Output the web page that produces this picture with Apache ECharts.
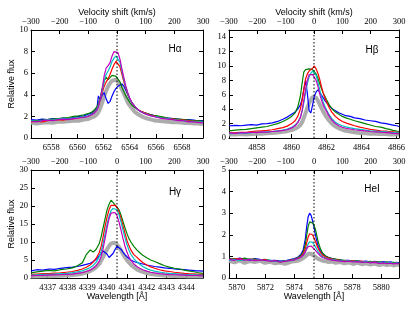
<!DOCTYPE html>
<html><head><meta charset="utf-8">
<script src="https://cdn.jsdelivr.net/npm/echarts@6/dist/echarts.min.js"></script>
<style>html,body{margin:0;padding:0;background:#fff}#c{width:415px;height:312px}</style>
</head><body><div id="c"></div>
<script>
// ---------- DATA ----------
const velTicks = [-300, -200, -100, 0, 100, 200, 300];

// H-alpha
const haWave = [6556.45,6556.9,6557.3,6557.7,6558.1,6558.5,6558.9,6559.3,6559.7,6560.1,6560.5,6560.8,6561.1,6561.3,6561.5,6561.6,6561.75,6561.9,6562.05,6562.2,6562.35,6562.5,6562.65,6562.8,6562.95,6563.1,6563.25,6563.4,6563.55,6563.7,6563.85,6564.0,6564.2,6564.4,6564.65,6564.9,6565.2,6565.5,6565.8,6566.1,6566.5,6566.9,6567.3,6567.7,6568.1,6568.5,6568.9,6569.2,6569.6];
const haGrey = [1.4,1.35,1.4,1.45,1.4,1.5,1.5,1.55,1.6,1.6,1.7,1.75,1.9,2.0,2.2,2.4,2.8,3.3,3.9,4.4,4.8,5.1,5.3,5.4,5.4,5.2,4.9,4.5,4.1,3.7,3.3,3.0,2.7,2.4,2.2,2.0,1.85,1.75,1.65,1.6,1.55,1.5,1.45,1.45,1.4,1.4,1.35,1.35,1.3];
const haBlue = [1.7,1.65,1.75,1.7,1.8,1.75,1.85,1.8,1.9,2.0,2.05,2.2,2.3,2.5,2.8,3.9,3.5,4.0,4.2,3.6,3.2,3.4,3.9,4.3,4.6,4.8,4.9,5.0,4.8,4.4,4.0,3.6,3.2,2.9,2.6,2.4,2.3,2.2,2.1,2.0,1.9,1.85,1.8,1.75,1.7,1.7,1.65,1.6,1.6];
const haGreen = [1.6,1.6,1.65,1.7,1.75,1.8,1.85,1.9,2.0,2.05,2.15,2.25,2.4,2.6,2.9,3.2,3.8,4.6,5.3,5.6,5.4,5.5,5.8,5.9,5.7,5.6,5.2,4.7,4.3,3.9,3.6,3.3,3.0,2.8,2.6,2.45,2.3,2.2,2.1,2.05,1.95,1.85,1.8,1.75,1.7,1.65,1.6,1.6,1.55];
const haRed = [1.5,1.55,1.5,1.6,1.65,1.7,1.65,1.75,1.8,1.85,1.95,2.0,2.2,2.4,2.7,3.0,3.5,4.2,4.8,5.2,5.5,5.9,6.4,6.8,7.1,7.0,6.6,5.9,5.2,4.6,4.0,3.6,3.2,2.9,2.6,2.45,2.3,2.15,2.05,1.95,1.85,1.8,1.75,1.7,1.65,1.6,1.55,1.55,1.5];
const haCyan = [1.6,1.55,1.6,1.7,1.65,1.75,1.8,1.75,1.85,1.9,1.95,2.05,2.2,2.35,2.7,3.0,3.6,4.4,5.3,5.9,6.2,6.6,7.1,7.4,7.6,7.5,7.0,6.2,5.4,4.7,4.1,3.6,3.2,2.9,2.6,2.4,2.25,2.1,2.0,1.95,1.85,1.8,1.7,1.65,1.6,1.55,1.55,1.5,1.5];
const haMagenta = [1.55,1.5,1.6,1.65,1.6,1.7,1.75,1.7,1.8,1.85,1.9,2.0,2.15,2.3,2.6,2.9,3.6,4.6,5.8,6.5,6.7,7.0,7.6,8.0,8.1,7.9,7.3,6.4,5.6,4.8,4.2,3.7,3.2,2.9,2.6,2.4,2.2,2.1,2.0,1.9,1.8,1.75,1.7,1.6,1.6,1.5,1.5,1.45,1.4];
const haXTicks = [6558, 6560, 6562, 6564, 6566, 6568];
const haYTicks = [0, 2, 4, 6, 8, 10];

// H-beta
const hbWave = [4856.42,4856.8,4857.1,4857.4,4857.7,4858.0,4858.3,4858.6,4858.9,4859.2,4859.5,4859.75,4860.0,4860.2,4860.35,4860.5,4860.6,4860.7,4860.8,4860.9,4861.0,4861.1,4861.2,4861.3,4861.4,4861.5,4861.6,4861.7,4861.8,4861.9,4862.0,4862.15,4862.3,4862.5,4862.7,4862.9,4863.1,4863.35,4863.6,4863.9,4864.2,4864.5,4864.8,4865.1,4865.4,4865.6,4865.8,4866.0,4866.14];
const hbGrey = [0.5,0.5,0.55,0.5,0.55,0.6,0.6,0.65,0.7,0.75,0.85,0.95,1.1,1.3,1.5,1.8,2.2,2.8,3.5,4.2,4.8,5.3,5.7,5.8,5.6,5.2,4.7,4.2,3.7,3.3,2.9,2.4,2.0,1.6,1.35,1.15,1.0,0.9,0.8,0.7,0.65,0.6,0.6,0.55,0.55,0.5,0.5,0.5,0.5];
const hbBlue = [1.7,1.75,1.7,1.8,1.85,1.8,1.95,2.0,2.1,2.3,2.6,2.9,3.3,3.6,4.0,4.6,5.4,6.8,8.0,6.2,3.8,3.5,4.6,5.8,6.4,6.7,6.5,6.0,5.6,5.2,4.9,4.5,4.1,3.8,3.5,3.3,3.1,3.0,2.8,2.7,2.5,2.4,2.3,2.1,2.0,1.9,1.8,1.7,1.6];
const hbGreen = [1.0,1.1,1.15,1.2,1.3,1.4,1.5,1.6,1.8,2.0,2.3,2.6,3.0,3.5,4.3,5.8,7.6,9.2,9.5,9.4,9.6,9.4,9.5,9.3,8.9,8.3,7.6,6.9,6.3,5.8,5.3,4.6,4.1,3.6,3.3,3.0,2.8,2.6,2.4,2.2,2.0,1.8,1.6,1.5,1.3,1.2,1.05,0.95,0.9];
const hbRed = [0.7,0.75,0.8,0.8,0.9,0.95,1.0,1.05,1.15,1.3,1.45,1.65,2.0,2.4,3.0,4.0,5.2,6.8,8.2,8.9,9.3,9.5,9.7,10.0,9.6,9.0,8.2,7.2,6.3,5.6,5.0,4.2,3.6,3.0,2.6,2.3,2.1,1.9,1.7,1.5,1.35,1.2,1.1,1.0,0.95,0.9,0.85,0.8,0.8];
const hbCyan = [0.6,0.65,0.7,0.65,0.75,0.8,0.8,0.85,0.9,1.0,1.1,1.25,1.5,1.8,2.2,2.9,3.7,4.9,6.3,7.6,8.5,9.0,9.3,9.2,8.7,7.8,6.8,5.8,5.0,4.4,3.9,3.2,2.7,2.2,1.9,1.7,1.55,1.4,1.3,1.2,1.1,1.0,0.95,0.9,0.85,0.8,0.75,0.7,0.7];
const hbMagenta = [0.7,0.65,0.75,0.7,0.8,0.75,0.85,0.8,0.9,0.95,1.05,1.15,1.4,1.7,2.1,2.8,3.8,5.3,6.8,8.0,8.8,9.0,8.8,8.6,8.0,7.2,6.2,5.3,4.6,4.1,3.7,3.0,2.5,2.0,1.7,1.5,1.35,1.25,1.15,1.05,1.0,0.9,0.85,0.8,0.75,0.7,0.65,0.6,0.6];
const hbXTicks = [4858, 4860, 4862, 4864, 4866];
const hbYTicks = [0, 2, 4, 6, 8, 10, 12, 14];

// H-gamma
const hgWave = [4336.16,4336.45,4336.75,4337.05,4337.35,4337.65,4337.95,4338.25,4338.5,4338.75,4338.95,4339.15,4339.3,4339.45,4339.6,4339.7,4339.8,4339.9,4340.0,4340.1,4340.2,4340.3,4340.4,4340.5,4340.6,4340.7,4340.8,4340.9,4341.0,4341.1,4341.2,4341.35,4341.5,4341.65,4341.8,4342.0,4342.2,4342.4,4342.65,4342.9,4343.15,4343.4,4343.65,4343.9,4344.1,4344.3,4344.5,4344.65,4344.84];
const hgGrey = [0.4,0.45,0.5,0.5,0.55,0.6,0.7,0.8,1.0,1.2,1.5,1.9,2.4,3.0,3.9,4.8,5.9,7.0,8.0,8.9,9.6,10.0,9.8,9.3,8.6,7.7,6.7,5.8,5.0,4.3,3.7,3.0,2.4,2.0,1.7,1.35,1.1,0.95,0.8,0.7,0.6,0.55,0.5,0.5,0.45,0.45,0.4,0.4,0.4];
const hgBlue = [2.0,2.3,2.2,2.5,2.4,2.7,2.9,3.0,3.2,3.5,3.8,4.1,4.6,5.2,6.2,6.9,7.5,7.8,6.6,5.7,5.9,6.8,7.9,8.8,8.6,8.0,7.2,6.5,5.9,5.4,5.0,4.6,4.3,4.1,3.9,3.6,3.4,3.2,3.0,2.8,2.7,2.5,2.4,2.3,2.2,2.1,2.0,2.0,1.9];
const hgGreen = [1.4,1.7,1.9,2.1,2.0,2.3,2.5,2.8,3.4,4.2,6.5,7.8,7.2,8.0,9.5,11.5,14.0,16.5,19.0,20.5,21.6,21.0,20.3,20.0,19.0,17.5,15.8,14.0,12.4,11.0,10.0,8.8,7.8,7.0,6.3,5.6,5.0,4.6,4.0,3.4,3.0,2.7,2.5,2.2,2.0,1.8,1.6,1.4,1.3];
const hgRed = [1.0,1.1,1.2,1.2,1.35,1.4,1.6,1.8,2.1,2.5,3.0,3.7,4.4,5.5,7.0,8.8,11.5,14.5,17.0,19.0,20.2,20.7,20.2,19.6,18.3,16.6,14.6,12.5,10.5,9.0,7.8,6.5,5.8,5.0,4.3,3.6,3.1,2.7,2.3,2.0,1.8,1.6,1.45,1.3,1.2,1.15,1.1,1.0,1.0];
const hgCyan = [0.8,0.9,1.0,1.0,1.1,1.2,1.3,1.5,1.7,2.0,2.4,2.9,3.5,4.4,5.8,7.4,9.6,12.3,15.0,17.2,18.7,19.3,19.5,19.0,17.6,15.6,13.4,11.2,9.3,7.8,6.6,5.4,4.5,3.8,3.2,2.6,2.2,1.9,1.65,1.45,1.3,1.2,1.1,1.0,0.95,0.9,0.85,0.8,0.8];
const hgMagenta = [0.6,0.7,0.75,0.8,0.85,0.9,1.0,1.1,1.3,1.5,1.8,2.2,2.7,3.4,4.6,6.0,8.2,11.0,14.0,16.5,18.0,18.5,18.2,17.3,15.6,13.4,11.0,8.9,7.2,5.9,4.9,3.9,3.2,2.7,2.3,1.9,1.6,1.4,1.2,1.05,0.95,0.9,0.85,0.8,0.75,0.7,0.7,0.65,0.6];
const hgXTicks = [4337, 4338, 4339, 4340, 4341, 4342, 4343, 4344];
const hgYTicks = [0, 5, 10, 15, 20, 25, 30];

// He I
const heWave = [5869.47,5869.85,5870.2,5870.55,5870.9,5871.25,5871.6,5871.95,5872.3,5872.65,5873.0,5873.35,5873.7,5874.0,5874.25,5874.45,5874.6,5874.75,5874.85,5874.95,5875.05,5875.15,5875.25,5875.35,5875.45,5875.55,5875.65,5875.8,5875.95,5876.15,5876.35,5876.6,5876.85,5877.15,5877.45,5877.75,5878.05,5878.35,5878.65,5878.95,5879.25,5879.55,5879.85,5880.15,5880.4,5880.65,5880.85,5881.05,5881.23];
const heGrey = [0.8,0.72,0.82,0.7,0.78,0.74,0.8,0.7,0.75,0.68,0.72,0.66,0.74,0.78,0.8,0.86,0.92,1.0,1.08,1.12,1.15,1.12,1.08,1.02,0.98,0.92,0.88,0.84,0.8,0.78,0.74,0.76,0.7,0.74,0.68,0.72,0.65,0.7,0.64,0.68,0.62,0.67,0.6,0.65,0.6,0.63,0.58,0.62,0.6];
const heBlue = [0.9,0.85,0.92,0.88,0.83,0.9,0.86,0.84,0.8,0.82,0.78,0.8,0.85,0.9,0.97,1.1,1.3,1.8,2.4,2.85,3.0,2.9,2.65,2.35,2.0,1.7,1.45,1.25,1.12,1.02,0.95,0.9,0.86,0.84,0.8,0.82,0.78,0.8,0.76,0.78,0.74,0.77,0.73,0.76,0.72,0.75,0.7,0.73,0.7];
const heGreen = [0.88,0.9,0.85,0.92,0.86,0.88,0.84,0.86,0.82,0.8,0.76,0.79,0.83,0.88,0.95,1.05,1.2,1.55,2.0,2.4,2.6,2.65,2.55,2.45,2.25,1.95,1.65,1.35,1.15,1.02,0.95,0.9,0.88,0.84,0.82,0.8,0.78,0.8,0.76,0.74,0.77,0.73,0.75,0.71,0.74,0.7,0.73,0.7,0.68];
const heRed = [0.85,0.88,0.9,0.84,0.87,0.85,0.82,0.85,0.8,0.78,0.75,0.78,0.82,0.86,0.92,1.0,1.12,1.35,1.65,1.9,2.05,2.1,2.0,1.85,1.7,1.5,1.35,1.18,1.05,0.97,0.92,0.88,0.85,0.82,0.8,0.78,0.8,0.76,0.78,0.74,0.72,0.75,0.7,0.72,0.68,0.7,0.67,0.69,0.66];
const heCyan = [0.82,0.86,0.8,0.84,0.88,0.82,0.85,0.8,0.83,0.77,0.76,0.78,0.8,0.85,0.9,0.97,1.05,1.2,1.4,1.58,1.68,1.72,1.65,1.55,1.45,1.32,1.2,1.08,0.98,0.92,0.88,0.85,0.83,0.8,0.78,0.8,0.76,0.78,0.74,0.76,0.72,0.74,0.7,0.73,0.69,0.71,0.68,0.7,0.67];
const heMagenta = [0.86,0.82,0.88,0.83,0.85,0.8,0.84,0.82,0.78,0.8,0.74,0.77,0.81,0.84,0.9,0.96,1.05,1.2,1.35,1.45,1.5,1.48,1.42,1.35,1.28,1.2,1.12,1.02,0.95,0.9,0.86,0.83,0.8,0.78,0.76,0.78,0.74,0.76,0.72,0.74,0.7,0.72,0.68,0.7,0.66,0.69,0.65,0.68,0.66];
const heXTicks = [5870, 5872, 5874, 5876, 5878, 5880];
const heYTicks = [0, 1, 2, 3, 4, 5];

// ---------- CHART ----------
const COL = {grey:'#a3a3a3', blue:'#0000ff', green:'#008000', red:'#ff0000', cyan:'#00bfbf', magenta:'#bf00bf'};
const panels = [
  {wave:haWave, s:{grey:haGrey,blue:haBlue,green:haGreen,red:haRed,cyan:haCyan,magenta:haMagenta}, xmin:6556.45, xmax:6569.6, ymax:10, xt:haXTicks, yt:haYTicks, grid:{left:31, top:30, width:172, height:108}},
  {wave:hbWave, s:{grey:hbGrey,blue:hbBlue,green:hbGreen,red:hbRed,cyan:hbCyan,magenta:hbMagenta}, xmin:4856.42, xmax:4866.14, ymax:15, xt:hbXTicks, yt:hbYTicks, grid:{left:229, top:30, width:170, height:108}},
  {wave:hgWave, s:{grey:hgGrey,blue:hgBlue,green:hgGreen,red:hgRed,cyan:hgCyan,magenta:hgMagenta}, xmin:4336.16, xmax:4344.84, ymax:30, xt:hgXTicks, yt:hgYTicks, grid:{left:31, top:170, width:172, height:108}},
  {wave:heWave, s:{grey:heGrey,blue:heBlue,green:heGreen,red:heRed,cyan:heCyan,magenta:heMagenta}, xmin:5869.47, xmax:5881.23, ymax:5, xt:heXTicks, yt:heYTicks, grid:{left:229, top:170, width:170, height:108}}
];
const SERIF = 'Liberation Serif';
const SANS = 'Liberation Sans';
const lbl = {fontFamily:SERIF, fontSize:8.5, color:'#000'};
const axLine = {show:true, onZero:false, lineStyle:{color:'#000', width:1}};
const fmtNum = v => (v < 0 ? '\u2212' + Math.abs(v) : String(v));

const grids = [], xAxes = [], yAxes = [], series = [];
panels.forEach((p, i) => {
  grids.push(Object.assign({containLabel:false}, p.grid));
  xAxes.push({type:'value', gridIndex:i, position:'bottom', min:p.xmin, max:p.xmax,
    axisLine:axLine, splitLine:{show:false},
    axisTick:{show:true, inside:true, length:4, customValues:p.xt, lineStyle:{color:'#000'}},
    axisLabel:Object.assign({customValues:p.xt, margin:5, formatter:fmtNum}, lbl)});
  xAxes.push({type:'value', gridIndex:i, position:'top', min:-300, max:300,
    axisLine:axLine, splitLine:{show:false},
    axisTick:{show:true, inside:true, length:4, customValues:velTicks, lineStyle:{color:'#000'}},
    axisLabel:Object.assign({customValues:velTicks, margin:4, formatter:fmtNum}, lbl)});
  yAxes.push({type:'value', gridIndex:i, position:'left', min:0, max:p.ymax,
    axisLine:axLine, splitLine:{show:false},
    axisTick:{show:true, inside:true, length:4, customValues:p.yt, lineStyle:{color:'#000'}},
    axisLabel:Object.assign({customValues:p.yt, margin:3, formatter:fmtNum}, lbl)});
  yAxes.push({type:'value', gridIndex:i, position:'right', min:0, max:p.ymax,
    axisLine:axLine, splitLine:{show:false},
    axisTick:{show:true, inside:true, length:4, customValues:p.yt, lineStyle:{color:'#000'}},
    axisLabel:{show:false}});
  ['grey','blue','green','red','cyan','magenta'].forEach(k => {
    const vals = p.s[k];
    series.push({type:'line', xAxisIndex:2*i, yAxisIndex:2*i, symbol:'none', silent:true,
      data:p.wave.map((w, j) => [w, vals[j]]),
      lineStyle:{color:COL[k], width:k === 'grey' ? 4 : 1.2, opacity:k === 'grey' ? 0.9 : 1},
      z:k === 'grey' ? 1 : 2});
  });
  series.push({type:'line', xAxisIndex:2*i+1, yAxisIndex:2*i, symbol:'none', silent:true,
    data:[[0, 0], [0, p.ymax]], lineStyle:{color:'#000', width:1, type:[1.5, 2]}, z:3});
});

const txt = (x, y, text, opts) => ({type:'text', x, y, style:Object.assign({text, fill:'#000', fontFamily:SANS, fontSize:9, align:'center', verticalAlign:'middle'}, opts||{})});
const graphic = [
  txt(117, 13, 'Velocity shift (km/s)'),
  txt(314, 13, 'Velocity shift (km/s)'),
  txt(117, 297, 'Wavelength [Å]'),
  txt(314, 297, 'Wavelength [Å]'),
  {type:'text', x:12, y:84, rotation:Math.PI/2, style:{text:'Relative flux', fill:'#000', fontFamily:SANS, fontSize:9, align:'center', verticalAlign:'middle'}},
  {type:'text', x:12, y:224, rotation:Math.PI/2, style:{text:'Relative flux', fill:'#000', fontFamily:SANS, fontSize:9, align:'center', verticalAlign:'middle'}},
  txt(175, 49, 'Hα', {fontSize:10}),
  txt(372, 50, 'Hβ', {fontSize:10}),
  txt(175, 192, 'Hγ', {fontSize:10}),
  txt(372, 189, 'HeI', {fontSize:10})
];

const chart = echarts.init(document.getElementById('c'), null, {renderer:'canvas'});
chart.setOption({animation:false, backgroundColor:'#fff', grid:grids, xAxis:xAxes, yAxis:yAxes, series, graphic});
</script>
</body></html>
